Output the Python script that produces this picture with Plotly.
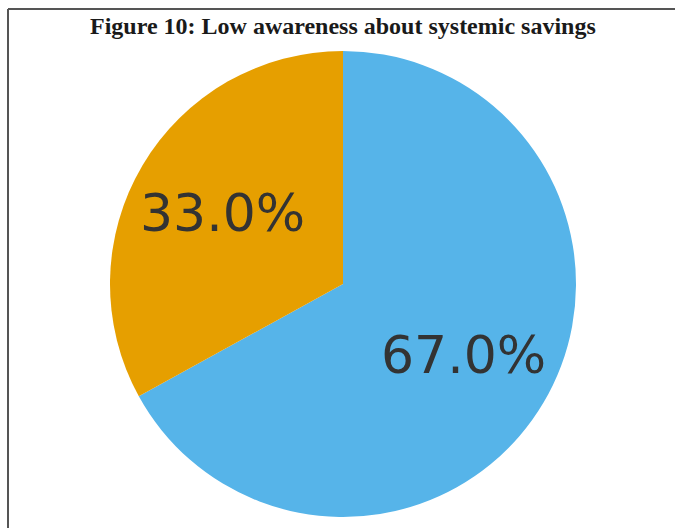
import math
import plotly.graph_objects as go

# Survey shares
labels = ["Not aware", "Aware"]
shares = [67.0, 33.0]
colors = ["#56B4E9", "#E69F00"]
title_text = "Figure 10: Low awareness about systemic savings"

W, H = 675, 528
cx, cy, r = 343, 284, 233  # pie centre and radius in pixels

dom_x = [(cx - r) / W, (cx + r) / W]
dom_y = [1 - (cy + r) / H, 1 - (cy - r) / H]

fig = go.Figure(go.Pie(
    labels=labels,
    values=shares,
    sort=False,
    direction="clockwise",
    rotation=0,
    marker=dict(colors=colors, line=dict(width=0)),
    textinfo="none",
    hoverinfo="label+percent",
    showlegend=False,
    domain=dict(x=dom_x, y=dom_y),
))

# Percent labels placed at 0.6 of the radius, at each wedge's mid-angle
# (wedges run clockwise from 12 o'clock)
annotations = []
total = sum(shares)
start = 90.0
for v in shares:
    sweep = 360.0 * v / total
    mid = math.radians(start - sweep / 2)
    px = cx + 0.6 * r * math.cos(mid)
    py = cy - 0.6 * r * math.sin(mid)
    annotations.append(dict(
        x=px / W, y=1 - py / H, xref="paper", yref="paper",
        text=f"{v / total * 100:.1f}%", showarrow=False,
        xanchor="center", yanchor="middle",
        font=dict(family="DejaVu Sans", size=52, color="#333333"),
    ))
    start -= sweep

annotations.append(dict(
    x=cx / W, y=1 - 26 / H, xref="paper", yref="paper",
    text=f"<b>{title_text}</b>", showarrow=False,
    xanchor="center", yanchor="middle",
    font=dict(family="Liberation Serif", size=24, color="#1a1a1a"),
))

# Frame lines along the top and left edges
shapes = [
    dict(type="line", xref="paper", yref="paper",
         x0=8 / W, y0=1 - 9 / H, x1=1, y1=1 - 9 / H,
         line=dict(color="#555555", width=2)),
    dict(type="line", xref="paper", yref="paper",
         x0=8 / W, y0=1 - 9 / H, x1=8 / W, y1=0,
         line=dict(color="#555555", width=2)),
]

fig.update_layout(
    width=W, height=H,
    margin=dict(l=0, r=0, t=0, b=0),
    paper_bgcolor="white",
    plot_bgcolor="white",
    annotations=annotations,
    shapes=shapes,
)

fig.write_html("out.html")
